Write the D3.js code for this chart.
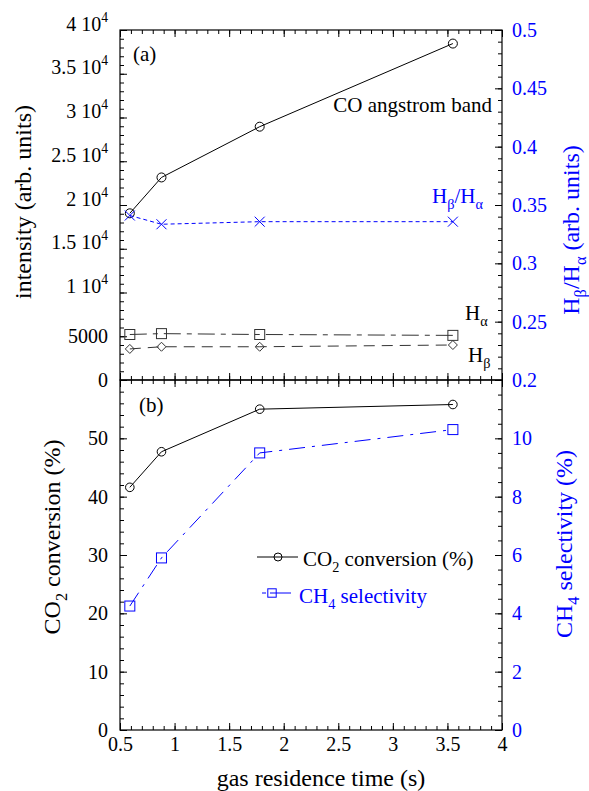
<!DOCTYPE html>
<html>
<head>
<meta charset="utf-8">
<script src="https://cdn.jsdelivr.net/npm/d3@7"></script>
<style>
  body { margin: 0; background: #fff; }
  svg text, svg tspan { font-family: "Liberation Serif", Tinos, "Times New Roman", Times, "DejaVu Serif", serif; }
</style>
</head>
<body>
<svg id="main" width="589" height="791" font-family="Liberation Serif, Tinos, Times New Roman, DejaVu Serif, serif"></svg>
<script>
// data
const residenceTime = [0.59, 0.88, 1.78, 3.55];
const coBand = [19050, 23150, 28950, 38450];
const hAlpha = [5200, 5300, 5200, 5100];
const hBeta = [3550, 3800, 3800, 4000];
const betaAlpha = [0.341, 0.3335, 0.3357, 0.3357];
const co2Conversion = [41.6, 47.7, 55.0, 55.8];
const ch4Selectivity = [4.25, 5.9, 9.5, 10.3];

// tick labels
const timeTicks = [0.5, 1, 1.5, 2, 2.5, 3, 3.5, 4];
const intensityTicks = [0, 5000, 10000, 15000, 20000, 25000, 30000, 35000, 40000];
const ratioTicks = [0.2, 0.25, 0.3, 0.35, 0.4, 0.45, 0.5];
const conversionTicks = [0, 10, 20, 30, 40, 50];
const selectivityTicks = [0, 2, 4, 6, 8, 10];

const blue = '#0000ff';
const serif = '"Liberation Serif", Tinos, "Times New Roman", "DejaVu Serif", serif';
const pLeft = 120, pRight = 502, pTop = 30, pMid = 380, pBottom = 730;

const svg = d3.select('#main');

const x = d3.scaleLinear().domain([0.5, 4]).range([pLeft, pRight]);
const yInt = d3.scaleLinear().domain([0, 40000]).range([pMid, pTop]);
const yRatio = d3.scaleLinear().domain([0.2, 0.5]).range([pMid, pTop]);
const yConv = d3.scaleLinear().domain([0, 60]).range([pBottom, pMid]);
const ySel = d3.scaleLinear().domain([0, 12]).range([pBottom, pMid]);

// text with sub/superscripts
function richText(sel, parts, size) {
    let shift = 0;
    sel.style('font-family', serif);
    parts.forEach(([s, kind]) => {
        const target = kind === 'sub' ? Math.round(size * 0.3) : kind === 'sup' ? -Math.round(size * 0.45) : 0;
        sel.append('tspan')
            .attr('dy', target - shift)
            .attr('font-size', kind ? size * 0.68 : size)
            .text(s);
        shift = target;
    });
    return sel;
}

// inward ticks, major + minor
function addAxis(make, scale, translate, major, minor, pad, color) {
    const g = svg.append('g').attr('transform', translate);
    g.append('g').call(make(scale).tickValues(minor).tickSize(-4).tickFormat(''));
    const ga = g.append('g')
        .call(make(scale).tickValues(major).tickSize(-7).tickPadding(pad).tickFormat(d => d));
    g.selectAll('.domain').remove();
    g.selectAll('line').attr('stroke', '#000').attr('stroke-width', 1);
    ga.attr('font-family', serif).attr('font-size', 20);
    ga.selectAll('text').attr('fill', color || '#000').style('font-family', serif);
    return ga;
}

const xMinor = d3.range(5, 41).map(d => d / 10);

// panel (a)
addAxis(d3.axisTop, x, `translate(0,${pTop})`, timeTicks, xMinor, 0).selectAll('text').remove();
addAxis(d3.axisBottom, x, `translate(0,${pMid})`, timeTicks, xMinor, 0).selectAll('text').remove();
const intAxis = addAxis(d3.axisLeft, yInt, `translate(${pLeft},0)`, intensityTicks,
    d3.range(0, 40001, 1000), 12);
intAxis.selectAll('.tick text').each(function (d) {
    const t = d3.select(this).text(null);
    if (d < 10000) t.text(d);
    else richText(t, [[`${d / 1e4} 10`, null], ['4', 'sup']], 20);
});
addAxis(d3.axisRight, yRatio, `translate(${pRight},0)`, ratioTicks,
    d3.range(20, 51).map(d => d / 100), 10, blue);

// panel (b)
addAxis(d3.axisTop, x, `translate(0,${pMid})`, timeTicks, xMinor, 0).selectAll('text').remove();
addAxis(d3.axisBottom, x, `translate(0,${pBottom})`, timeTicks, xMinor, 7);
addAxis(d3.axisLeft, yConv, `translate(${pLeft},0)`, conversionTicks, d3.range(0, 61, 2), 12);
addAxis(d3.axisRight, ySel, `translate(${pRight},0)`, selectivityTicks,
    d3.range(0, 25).map(d => d / 2), 10, blue);

// frames
[[pTop, pMid], [pMid, pBottom]].forEach(([y0, y1]) => {
    svg.append('rect')
        .attr('x', pLeft).attr('y', y0)
        .attr('width', pRight - pLeft).attr('height', y1 - y0)
        .attr('fill', 'none').attr('stroke', '#000').attr('stroke-width', 1.2);
});

// series
const lineOf = yS => d3.line().x((d, i) => x(residenceTime[i])).y(d => yS(d));

function marker(g, type, cx, cy, color, s) {
    let el;
    if (type === 'circle') {
        el = g.append('circle').attr('cx', cx).attr('cy', cy).attr('r', s);
    } else if (type === 'square') {
        el = g.append('rect').attr('x', cx - s).attr('y', cy - s).attr('width', 2 * s).attr('height', 2 * s);
    } else if (type === 'diamond') {
        el = g.append('path').attr('d', `M${cx},${cy - s}L${cx + s},${cy}L${cx},${cy + s}L${cx - s},${cy}Z`);
    } else {
        el = g.append('path').attr('d', `M${cx - s},${cy - s}L${cx + s},${cy + s}M${cx - s},${cy + s}L${cx + s},${cy - s}`);
    }
    el.attr('fill', 'none').attr('stroke', color).attr('stroke-width', 1);
}

function series(values, yS, opts) {
    svg.append('path')
        .attr('d', lineOf(yS)(values))
        .attr('fill', 'none')
        .attr('stroke', opts.color)
        .attr('stroke-width', 1)
        .attr('stroke-dasharray', opts.dash || null);
    const g = svg.append('g');
    values.forEach((v, i) => {
        marker(g, opts.marker, x(residenceTime[i]), yS(v), opts.color, opts.size);
    });
}

series(coBand, yInt, { color: '#000', marker: 'circle', size: 4.5 });
series(hAlpha, yInt, { color: '#333', marker: 'square', size: 5, dash: '17,6,5,6' });
series(hBeta, yInt, { color: '#333', marker: 'diamond', size: 4.5, dash: '11,7' });
series(betaAlpha, yRatio, { color: blue, marker: 'cross', size: 5, dash: '4,3' });
series(co2Conversion, yConv, { color: '#000', marker: 'circle', size: 4.3 });
series(ch4Selectivity, ySel, { color: blue, marker: 'square', size: 5, dash: '16,7,3,7' });

// annotations
const label = (xp, yp) => svg.append('text').attr('x', xp).attr('y', yp).style('font-family', serif);
label(133, 61).attr('font-size', 21).text('(a)');
label(139, 412).attr('font-size', 21).text('(b)');
label(492, 112).attr('font-size', 21).attr('text-anchor', 'end').text('CO angstrom band');
richText(label(432, 203).attr('fill', blue),
    [['H', null], ['β', 'sub'], ['/H', null], ['α', 'sub']], 21);
richText(label(465, 320), [['H', null], ['α', 'sub']], 21);
richText(label(468, 362), [['H', null], ['β', 'sub']], 21);

// legend (b)
svg.append('line').attr('x1', 257).attr('x2', 298).attr('y1', 557).attr('y2', 557)
    .attr('stroke', '#000').attr('stroke-width', 1);
marker(svg, 'circle', 278, 557, '#000', 4);
richText(label(303, 566), [['CO', null], ['2', 'sub'], [' conversion (%)', null]], 21);
svg.append('line').attr('x1', 262).attr('x2', 291).attr('y1', 593).attr('y2', 593)
    .attr('stroke', blue).attr('stroke-width', 1).attr('stroke-dasharray', '4,4,30');
marker(svg, 'square', 272, 593, blue, 4.2);
richText(label(299, 603).attr('fill', blue),
    [['CH', null], ['4', 'sub'], [' selectivity', null]], 21);

// axis titles
const title = tr => svg.append('text').attr('transform', tr).attr('text-anchor', 'middle');
richText(title('translate(31,202) rotate(-90)'), [['intensity (arb. units)', null]], 24);
richText(title('translate(579,230) rotate(-90)').attr('fill', blue),
    [['H', null], ['β', 'sub'], ['/H', null], ['α', 'sub'], [' (arb. units)', null]], 24);
richText(title('translate(60,537) rotate(-90)'),
    [['CO', null], ['2', 'sub'], [' conversion (%)', null]], 24);
richText(title('translate(572,544) rotate(-90)').attr('fill', blue),
    [['CH', null], ['4', 'sub'], [' selectivity (%)', null]], 24);
richText(title('translate(321,786)'), [['gas residence time (s)', null]], 24);
</script>
</body>
</html>
